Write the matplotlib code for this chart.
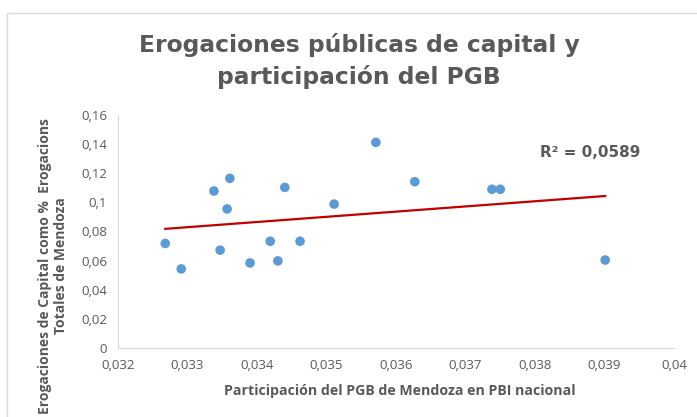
import numpy as np
import matplotlib
matplotlib.use("Agg")
import matplotlib.pyplot as plt
from matplotlib.patches import Rectangle
from matplotlib.ticker import FuncFormatter

# share of Mendoza PGB in national PBI vs capital spending share
pgb_share = [0.03268, 0.03291, 0.03338, 0.03361, 0.03357, 0.03347, 0.0339,
             0.03419, 0.0343, 0.0344, 0.03462, 0.03511, 0.03571, 0.03627,
             0.03738, 0.0375, 0.03901]
capital_share = [0.0718, 0.0543, 0.1078, 0.1165, 0.0955, 0.0672, 0.0584,
                 0.0733, 0.0598, 0.1103, 0.0733, 0.0988, 0.1412, 0.1142,
                 0.1090, 0.1090, 0.0604]
r2_label = "R² = 0,0589"

GRAY = "#595959"

fig = plt.figure(figsize=(6.97, 4.17), dpi=100)
fig.patches.append(Rectangle((7 / 697, -0.1), 1.2, 1 - 13 / 417 + 0.1,
                             transform=fig.transFigure, fill=False,
                             edgecolor="#d9d9d9", linewidth=1.0))

ax = fig.add_axes([118 / 697, 1 - 348 / 417, (674 - 118) / 697, (348 - 115) / 417])

ax.scatter(pgb_share, capital_share, s=48, color="#5B9BD5", zorder=3,
           edgecolors="none")

# linear trendline
coef = np.polyfit(pgb_share, capital_share, 1)
xs = np.array([min(pgb_share), max(pgb_share)])
ax.plot(xs, np.polyval(coef, xs), color="#C00000", linewidth=1.6, zorder=2)

ax.set_xlim(0.032, 0.04)
ax.set_ylim(0, 0.16)
ax.set_xticks(np.arange(0.032, 0.0401, 0.001))
ax.set_yticks(np.arange(0, 0.161, 0.02))

def comma_fmt(v, pos):
    s = ("%.3f" % v).rstrip("0").rstrip(".")
    return s.replace(".", ",")

ax.xaxis.set_major_formatter(FuncFormatter(comma_fmt))
ax.yaxis.set_major_formatter(FuncFormatter(comma_fmt))

for side in ["top", "right"]:
    ax.spines[side].set_visible(False)
for side in ["left", "bottom"]:
    ax.spines[side].set_color("#d9d9d9")
ax.tick_params(length=0, labelsize=9.5, labelcolor=GRAY, pad=8)
for lbl in ax.get_xticklabels() + ax.get_yticklabels():
    lbl.set_family("Open Sans")

fig.text(400 / 697, 1 - 391 / 417, "Participación del PGB de Mendoza en PBI nacional",
         ha="center", va="center", family="Open Sans",
         fontsize=10.2, fontweight="bold", color=GRAY)
fig.text(53 / 697, 1 - 266 / 417,
         "Erogaciones de Capital como %  Erogacions\nTotales de Mendoza",
         rotation=90, ha="center", va="center", family="Open Sans",
         fontsize=10, fontweight="bold", color=GRAY)

fig.text(359 / 697, 1 - 61 / 417, "Erogaciones públicas de capital y\nparticipación del PGB",
         ha="center", va="center", family="DejaVu Sans", fontsize=16.8,
         fontweight="bold", color=GRAY, linespacing=1.4)

ax.text(0.03879, 0.134, r2_label, family="DejaVu Sans", fontsize=11,
        fontweight="bold", color=GRAY, ha="center", va="center")

fig.savefig("out.png", dpi=100)
